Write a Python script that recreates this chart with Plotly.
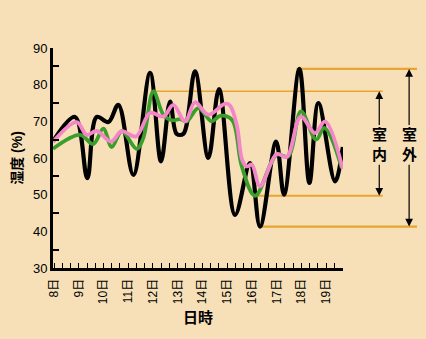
import plotly.graph_objects as go

# Hours elapsed since 8日 0:00 and relative humidity (%)
outdoor_h = [-1, 20.4, 32.3, 41.4, 52.7, 62.4, 77.0, 93.2, 103.8, 112.6, 119.0, 125.5,
             136.8, 149.7, 160.1, 175.7, 190.2, 199.9, 215.5, 223.2, 238.1, 247.8,
             256.5, 272.7, 280.2]
outdoor_v = [64.5, 71.2, 54.5, 71.2, 69.8, 74.5, 55.4, 83.2, 59.1, 75.4, 66.6, 66.6,
             83.6, 60.0, 78.8, 44.5, 58.6, 41.3, 64.5, 50.0, 84.3, 53.2,
             75.0, 53.6, 63.0]

indoor1_h = [-1, 25.2, 38.1, 47.8, 56.0, 65.7, 80.3, 86.7, 96.4, 106.1, 114.2, 122.3,
             128.8, 140.0, 153.0, 161.1, 172.7, 182.2, 195.1, 216.1, 227.1, 239.7,
             254.3, 262.3, 279.2]
indoor1_v = [62.5, 66.3, 63.8, 68.0, 63.0, 67.3, 62.5, 65.5, 78.2, 71.8, 70.3, 70.6,
             70.0, 73.6, 70.0, 71.5, 70.4, 57.7, 49.7, 60.9, 60.4, 72.7,
             65.0, 68.2, 57.3]

indoor2_h = [-1, 22.0, 31.7, 41.4, 55.3, 65.7, 79.6, 93.2, 106.1, 115.8, 127.1, 136.8,
             149.7, 166.0, 170.8, 177.6, 182.5, 187.0, 191.9, 199.9, 216.1, 225.8,
             239.4, 253.3, 263.0, 280.2]
indoor2_v = [64.4, 69.8, 66.3, 67.4, 64.5, 67.3, 65.9, 72.3, 71.3, 74.5, 70.0, 75.2,
             71.8, 74.8, 74.3, 68.6, 59.5, 57.7, 58.2, 52.3, 61.1, 60.3,
             71.3, 66.8, 70.0, 57.0]

day_labels = ["8日", "9日", "10日", "11日", "12日", "13日", "14日",
              "15日", "16日", "17日", "18日", "19日"]
day_ticks = [24 * i for i in range(len(day_labels))]

X_RANGE = [-1, 280.4]
BG = "#F7E0B8"
ORANGE = "#E8A531"
FONT = "Liberation Sans, Noto Sans CJK JP, sans-serif"


def to_paper(h):
    return (h - X_RANGE[0]) / (X_RANGE[1] - X_RANGE[0])


fig = go.Figure()
fig.add_trace(go.Scatter(x=outdoor_h, y=outdoor_v, mode="lines",
                         line=dict(color="#000000", width=4.2, shape="spline", smoothing=1.0),
                         name="室外"))
fig.add_trace(go.Scatter(x=indoor1_h, y=indoor1_v, mode="lines",
                         line=dict(color="#3B9E2C", width=3.8, shape="spline", smoothing=1.0),
                         name="室内1"))
fig.add_trace(go.Scatter(x=indoor2_h, y=indoor2_v, mode="lines",
                         line=dict(color="#F585C9", width=3.8, shape="spline", smoothing=1.0),
                         name="室内2"))

# Range guides: max/min of outdoor and indoor humidity
out_max = max(outdoor_v)
out_min = min(outdoor_v)
in_max = max(indoor1_v)
in_min = min(indoor1_v)
h_out_max = outdoor_h[outdoor_v.index(out_max)]
h_out_min = outdoor_h[outdoor_v.index(out_min)]
h_in_max = indoor1_h[indoor1_v.index(in_max)]
h_in_min = indoor1_h[indoor1_v.index(in_min)]

IN_END = 1.137
OUT_END = 1.255
guides = [
    (to_paper(h_out_max) - 0.01, OUT_END, out_max, 2.2),
    (to_paper(h_in_max) - 0.005, IN_END, in_max, 1.6),
    (to_paper(h_in_min), IN_END, in_min, 2.2),
    (to_paper(h_out_min) + 0.005, OUT_END, out_min, 2.2),
]
for x0, x1, yv, w in guides:
    fig.add_shape(type="line", xref="paper", yref="y", x0=x0, x1=x1, y0=yv, y1=yv,
                  line=dict(color=ORANGE, width=w), layer="below")

PX_PER_UNIT = 220 / 60
label_mid = 63.6
gap_top = 68.6
gap_bot = 58.6
for xp, top, bot, text in [(1.125, in_max, in_min, "室<br>内"),
                           (1.228, out_max, out_min, "室<br>外")]:
    fig.add_annotation(xref="paper", yref="y", x=xp, y=top, ax=0,
                       ay=(top - gap_top) * PX_PER_UNIT, text="", showarrow=True,
                       arrowhead=2, arrowsize=1.3, arrowwidth=1.2, arrowcolor="#000000")
    fig.add_annotation(xref="paper", yref="y", x=xp, y=bot, ax=0,
                       ay=-(gap_bot - bot) * PX_PER_UNIT, text="", showarrow=True,
                       arrowhead=2, arrowsize=1.3, arrowwidth=1.2, arrowcolor="#000000")
    fig.add_annotation(xref="paper", yref="y", x=xp, y=label_mid, text="<b>" + text + "</b>",
                       showarrow=False, font=dict(size=15, color="#000000", family=FONT),
                       xanchor="center", yanchor="middle")

fig.update_layout(
    width=426, height=339,
    margin=dict(l=53, r=83, t=48, b=71),
    paper_bgcolor=BG, plot_bgcolor=BG,
    showlegend=False,
    font=dict(family=FONT, color="#000000"),
)
fig.update_xaxes(
    range=X_RANGE, showgrid=False, zeroline=False,
    showline=True, linecolor="#000000", linewidth=3,
    tickmode="array", tickvals=day_ticks, ticktext=day_labels, tickangle=-90,
    ticks="inside", ticklen=5, tickwidth=1.3, tickcolor="#000000",
    tickfont=dict(size=12, family=FONT), ticklabelstandoff=3,
    minor=dict(tickmode="linear", tick0=0, dtick=8, ticks="inside", ticklen=5,
               tickwidth=1.3, tickcolor="#000000", showgrid=False),
    title=dict(text="<b>日時</b>", font=dict(size=15, family=FONT), standoff=10),
)
fig.update_yaxes(
    range=[30, 90], dtick=10, tick0=30, showgrid=False, zeroline=False,
    showline=True, linecolor="#000000", linewidth=3,
    ticks="", tickfont=dict(size=13, family=FONT),
    minor=dict(tickmode="linear", tick0=35, dtick=10, ticks="inside", ticklen=6,
               tickwidth=1.5, tickcolor="#000000", showgrid=False),
    title=dict(text="<b>湿度 (%)</b>", font=dict(size=14, family=FONT), standoff=8),
)

fig.write_html("out.html")
